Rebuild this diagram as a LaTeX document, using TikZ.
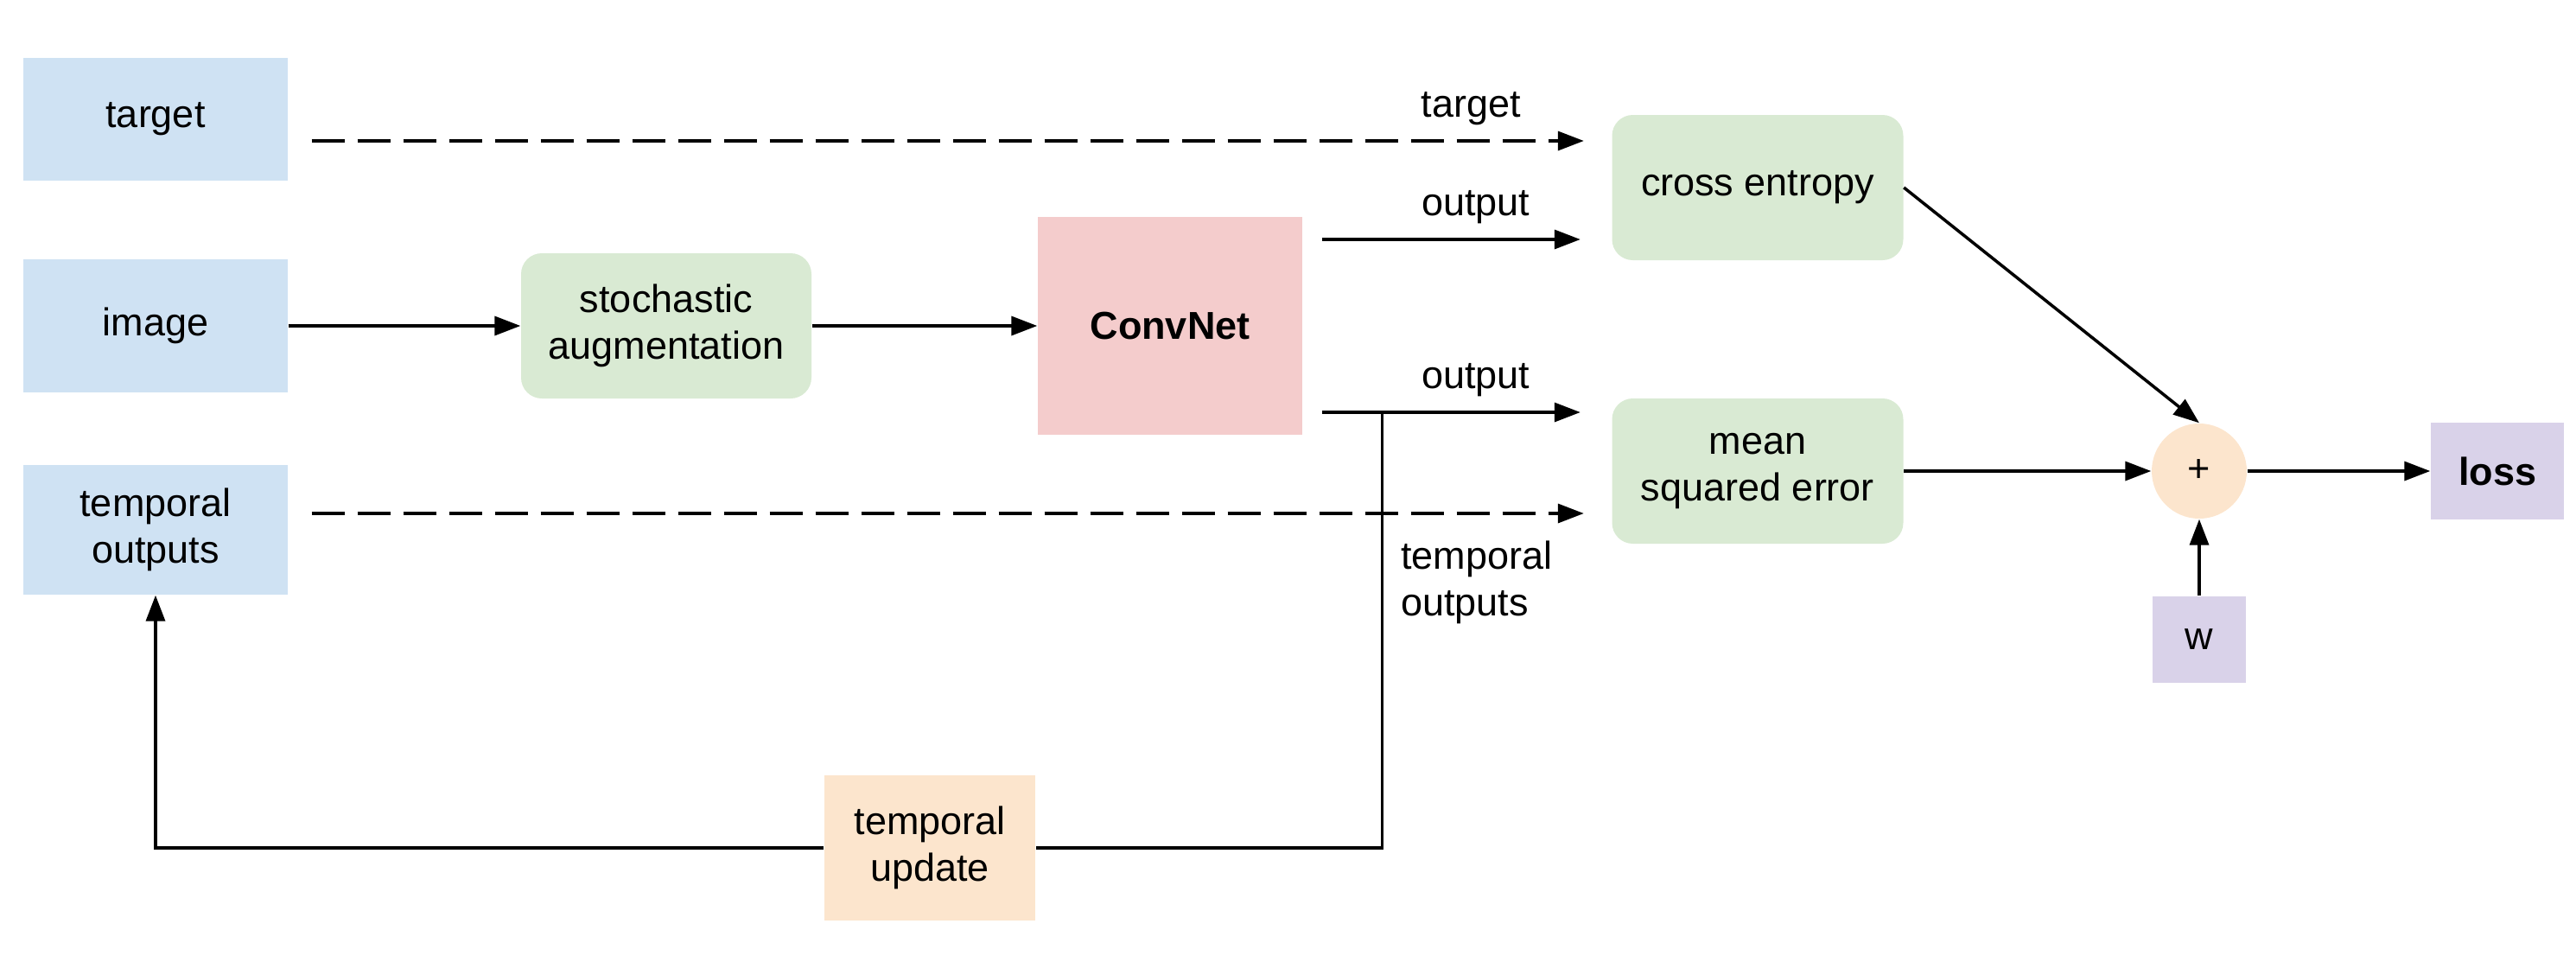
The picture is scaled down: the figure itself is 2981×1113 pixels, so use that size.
\documentclass[tikz,border=0pt]{standalone}
\usepackage{fontspec}
\setmainfont{Liberation Sans}
\usetikzlibrary{arrows.meta}

\definecolor{inblue}{HTML}{CFE2F3}
\definecolor{augreen}{HTML}{D9EAD3}
\definecolor{netred}{HTML}{F4CCCC}
\definecolor{updorange}{HTML}{FCE5CD}
\definecolor{losspurple}{HTML}{D9D2E9}

\begin{document}
\begin{tikzpicture}[x=0.1mm,y=0.1mm]
	\tikzstyle{every node}=[font=\fontsize{12.8pt}{15.3pt}\selectfont,align=center,inner sep=0pt]
	\tikzstyle{inbox}=[fill=inblue,minimum width=30.6mm]
	\tikzstyle{augbox}=[fill=augreen,rounded corners=2.4mm,minimum height=16.8mm]
	\tikzstyle{netbox}=[fill=netred,minimum width=30.6mm,minimum height=25.2mm]
	\tikzstyle{updbox}=[fill=updorange,minimum width=24.4mm,minimum height=16.8mm]
	\tikzstyle{lossbox}=[fill=losspurple]
	\tikzstyle{sumnode}=[circle,fill=updorange,minimum size=11mm]
	\tikzstyle{arr}=[line width=1pt,-{Triangle[length=3mm,width=2.2mm]}]
	\tikzstyle{dasharr}=[arr,dash pattern=on 3.8mm off 1.5mm]
	\tikzstyle{lbl}=[inner sep=1.6mm]
	\useasboundingbox (0,0) rectangle (2981,-1113);
	% inputs
	\node[inbox,minimum height=14.2mm] (target) at (180,-138) {target};
	\node[inbox,minimum height=15.4mm] (image) at (180,-377) {image};
	\node[inbox,minimum height=15mm] (tempout) at (180,-613) {temporal\\outputs};
	% network
	\node[augbox,minimum width=33.6mm] (augment) at (771,-377) {stochastic\\augmentation};
	\node[netbox] (convnet) at (1354,-377) {\textbf{ConvNet}};
	% losses
	\node[augbox,minimum width=33.7mm] (xent) at (2034,-217) {cross entropy};
	\node[augbox,minimum width=33.7mm] (mse) at (2034,-545) {mean\\squared error};
	\node[sumnode] (plus) at (2545,-545) {+};
	\node[lossbox,minimum width=15.4mm,minimum height=11.2mm] (loss) at (2890,-545) {\textbf{loss}};
	\node[lossbox,minimum width=10.8mm,minimum height=10mm] (w) at (2545,-740) {w};
	\node[updbox] (update) at (1076,-981) {temporal\\update};
	% connections
	\draw[arr] (image) -- (augment);
	\draw[arr] (augment) -- (convnet);
	\draw[dasharr,shorten <=2.7mm,shorten >=3.2mm] ([yshift=-2.5mm]target.east) coordinate (tgt)
		-- node[lbl,above,pos=0.894]{target} (tgt -| xent.west);
	\draw[arr,shorten <=2.2mm,shorten >=3.6mm] ([yshift=10mm]convnet.east) coordinate (o1)
		-- node[lbl,above,pos=0.56]{output} (o1 -| xent.west);
	\draw[arr,shorten <=2.2mm,shorten >=3.6mm] ([yshift=-10mm]convnet.east) coordinate (o2)
		-- coordinate[pos=0.257] (br) node[lbl,above,pos=0.56]{output} (o2 -| mse.west);
	\draw[dasharr,shorten <=2.7mm,shorten >=3.2mm] ([yshift=1.9mm]tempout.east) coordinate (to)
		-- (to -| mse.west);
	\draw[line width=1pt] (br) |- node[lbl,right,pos=0.195,align=left,inner sep=2mm]{temporal\\outputs} (update.east);
	\draw[arr] (update.west) -| (tempout.south);
	\draw[arr] (xent.east) -- (plus.north);
	\draw[arr] (mse) -- (plus);
	\draw[arr] (plus) -- (loss);
	\draw[arr] (w) -- (plus);
\end{tikzpicture}
\end{document}
